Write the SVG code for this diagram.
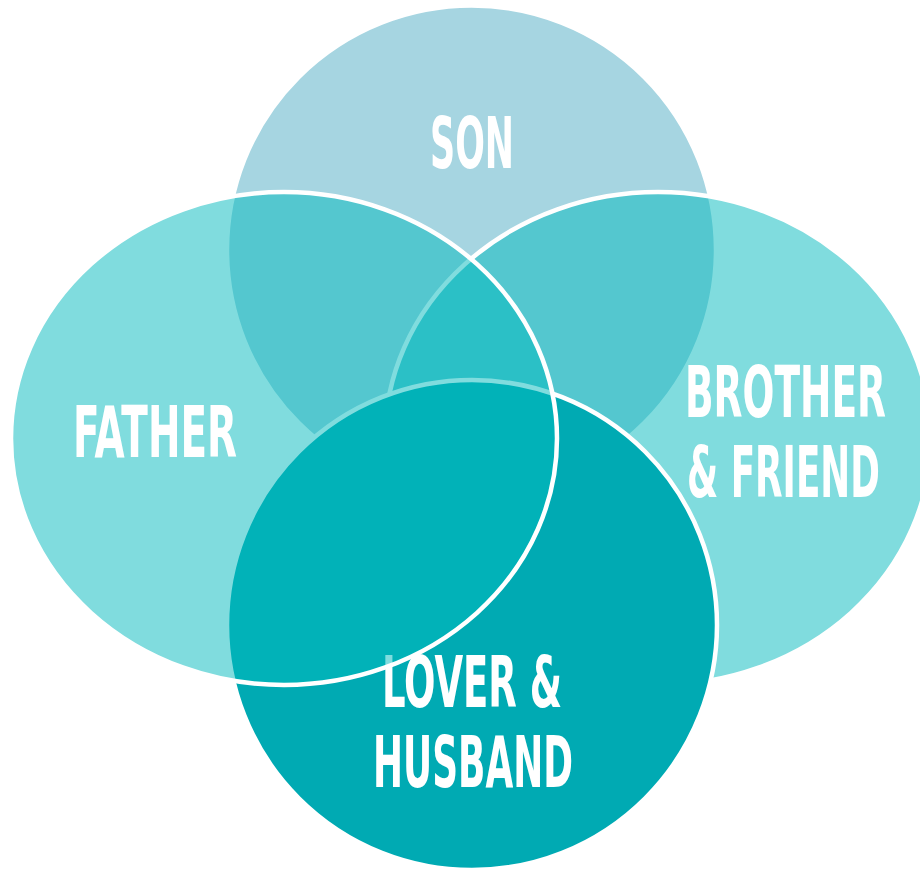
<svg xmlns="http://www.w3.org/2000/svg" width="920" height="871" viewBox="0 0 920 871">
  <style>
    .shape { stroke: #ffffff; stroke-width: 4.5; }
    .son { fill: #a6d5e1; }
    .half { fill: #01b9bd; fill-opacity: 0.5; }
    .lover { fill: #00aab3; }
    .label { fill: #ffffff; font-family: "Liberation Sans Narrow", "DejaVu Sans Condensed", "Liberation Sans", sans-serif; font-weight: bold; font-size: 72px; text-anchor: middle; }
  </style>
  <rect x="0" y="0" width="920" height="871" fill="#ffffff"/>
  <g id="son">
    <circle class="shape son" cx="471.5" cy="250" r="244.5"/>
    <text class="label" x="472" y="168" textLength="84" lengthAdjust="spacingAndGlyphs">SON</text>
  </g>
  <g id="brother-friend">
    <ellipse class="shape half" cx="658" cy="438.5" rx="273" ry="246.5"/>
    <text class="label" x="785.5" y="417" textLength="201" lengthAdjust="spacingAndGlyphs">BROTHER</text>
    <text class="label" x="783.5" y="497" textLength="193" lengthAdjust="spacingAndGlyphs">&amp; FRIEND</text>
  </g>
  <g id="lover-husband">
    <circle class="shape lover" cx="472" cy="625" r="245"/>
    <text class="label" x="472" y="707" textLength="180" lengthAdjust="spacingAndGlyphs">LOVER &amp;</text>
    <text class="label" x="473" y="787" textLength="200" lengthAdjust="spacingAndGlyphs">HUSBAND</text>
  </g>
  <g id="father">
    <ellipse class="shape half" cx="284" cy="438.5" rx="273" ry="246.5"/>
    <text class="label" x="155" y="457" textLength="164" lengthAdjust="spacingAndGlyphs">FATHER</text>
  </g>
  <g id="connectors"/>
</svg>
